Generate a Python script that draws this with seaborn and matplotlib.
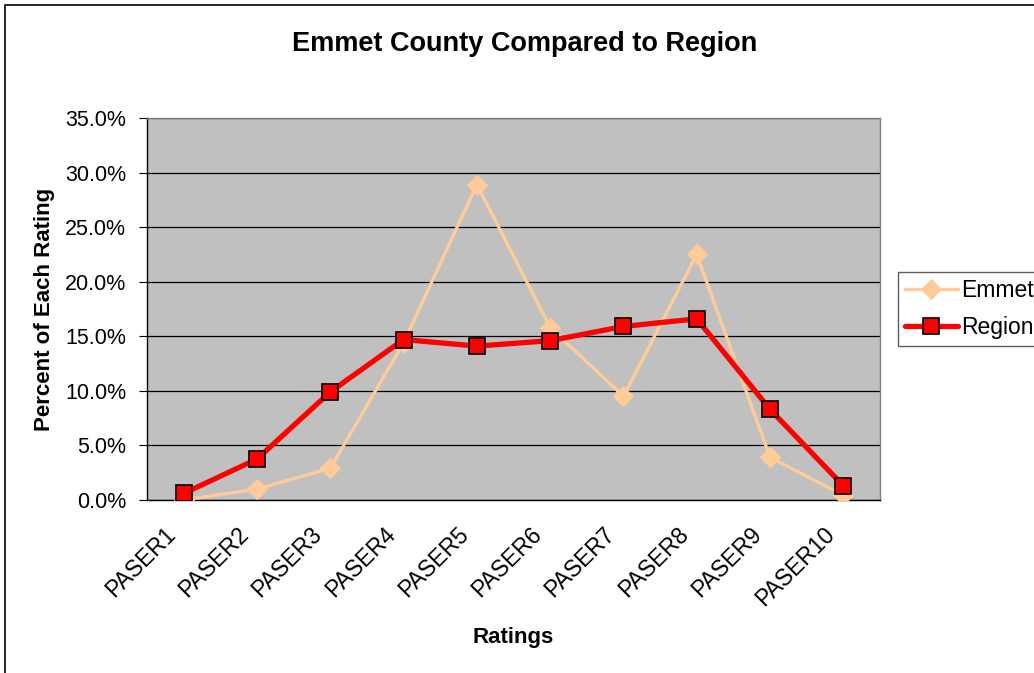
import numpy as np
import pandas as pd
import matplotlib
matplotlib.use("Agg")
import matplotlib.pyplot as plt
import matplotlib.transforms as mtransforms
import seaborn as sns
from matplotlib.ticker import FuncFormatter, FixedLocator
from matplotlib.patches import Rectangle

# data
ratings = ["PASER1", "PASER2", "PASER3", "PASER4", "PASER5",
           "PASER6", "PASER7", "PASER8", "PASER9", "PASER10"]
emmet = [0.0, 1.0, 2.9, 14.4, 28.9, 15.8, 9.5, 22.5, 3.9, 0.45]
region = [0.6, 3.75, 9.9, 14.7, 14.1, 14.6, 15.9, 16.6, 8.3, 1.3]

df = pd.DataFrame({"Rating": ratings * 2,
                   "Percent": emmet + region,
                   "Series": ["Emmet"] * 10 + ["Region"] * 10})
df["x"] = list(range(10)) * 2

sns.set_style("white")
plt.rcParams["font.family"] = ["Liberation Sans", "DejaVu Sans"]
plt.rcParams["text.color"] = "black"
plt.rcParams["xtick.color"] = "black"
plt.rcParams["ytick.color"] = "black"
plt.rcParams["axes.labelcolor"] = "black"

fig = plt.figure(figsize=(10.34, 6.73), dpi=100)
ax = fig.add_axes([147 / 1034, 173 / 673, 733 / 1034, 382 / 673])
ax.set_facecolor("#C0C0C0")

# outer chart frame
fig.patches.append(Rectangle((5 / 1034, -0.1), 1.2, (668 / 673) + 0.1,
                             transform=fig.transFigure, fill=False,
                             edgecolor="black", linewidth=1.2))

sns.lineplot(data=df[df.Series == "Emmet"], x="x", y="Percent", ax=ax,
             color="#FFCC99", linewidth=2.4, marker="D", markersize=10.5,
             markeredgecolor="#FFCC99", label="Emmet", zorder=3)
sns.lineplot(data=df[df.Series == "Region"], x="x", y="Percent", ax=ax,
             color="#FF0000", linewidth=3.8, marker="s", markersize=11.5,
             markeredgecolor="black", markeredgewidth=1.2, label="Region", zorder=4)

ax.set_xlim(-0.5, 9.5)
ax.set_ylim(0, 35)
ax.set_yticks(np.arange(0, 36, 5))
ax.yaxis.set_major_formatter(FuncFormatter(lambda v, p: f"{v:.1f}%"))
ax.yaxis.grid(True, color="black", linewidth=0.9)
ax.set_axisbelow(True)

ax.xaxis.set_major_locator(FixedLocator(np.arange(-0.5, 10, 1)))
ax.xaxis.set_minor_locator(FixedLocator(np.arange(10)))
ax.set_xticklabels([], minor=False)
ax.set_xticklabels(ratings, minor=True, rotation=45, ha="right", va="center",
                   rotation_mode="anchor", fontsize=16.5)
ax.tick_params(axis="x", which="major", direction="out", length=6)
ax.tick_params(axis="x", which="minor", length=0, pad=22)
ax.tick_params(axis="y", direction="out", length=6, labelsize=15.5, left=True, pad=9)

offset = mtransforms.ScaledTranslation(-12 / 100, 0, fig.dpi_scale_trans)
for lab in ax.get_xticklabels(minor=True):
    lab.set_transform(lab.get_transform() + offset)

for s in ["left", "bottom"]:
    ax.spines[s].set_color("black")
    ax.spines[s].set_linewidth(1.0)
for s in ["top", "right"]:
    ax.spines[s].set_color("#808080")
    ax.spines[s].set_linewidth(1.0)

ax.set_xlabel("Ratings", fontsize=16, fontweight="bold", labelpad=12)
ax.set_ylabel("Percent of Each Rating", fontsize=16, fontweight="bold", labelpad=7)
fig.text(525 / 1034, 1 - 44 / 673, "Emmet County Compared to Region",
         fontsize=19.5, fontweight="bold", ha="center", va="center")

ax.legend_.remove()
handles, labels = ax.get_legend_handles_labels()
leg = fig.legend(handles, labels, loc="upper left",
                 bbox_to_anchor=(898 / 1034, 1 - 272 / 673),
                 frameon=True, fancybox=False, fontsize=16.5,
                 handlelength=2.3, handletextpad=0.15, borderaxespad=0,
                 borderpad=0.3, labelspacing=0.6)
leg.get_frame().set_edgecolor("#333333")
leg.get_frame().set_linewidth(1.0)

fig.savefig("out.png", dpi=100)
